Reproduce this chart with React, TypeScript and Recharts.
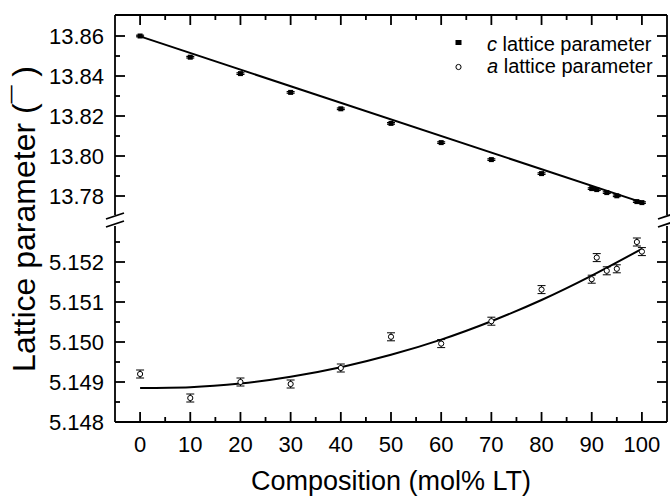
import { ComposedChart, Scatter, Line, XAxis, YAxis, ErrorBar } from 'recharts';

// LT content of each sample (mol%)
const COMPOSITION = [0, 10, 20, 30, 40, 50, 60, 70, 80, 90, 91, 93, 95, 99, 100];
// c lattice parameter per sample
const C_PARAM = [
  13.86, 13.8494, 13.8412, 13.8318, 13.8236, 13.8163, 13.8067, 13.7982, 13.7912, 13.7837, 13.7832,
  13.7817, 13.7801, 13.7772, 13.7767,
];
// a lattice parameter per sample
const A_PARAM = [
  5.1492, 5.1486, 5.149, 5.14895, 5.14935, 5.15013, 5.14996, 5.15052, 5.15131, 5.15157, 5.15211,
  5.15178, 5.15183, 5.1525, 5.15226,
];
const C_ERR = [
  0.0004, 0.0004, 0.0004, 0.0004, 0.0004, 0.0004, 0.0004, 0.0004, 0.0004, 0.0004, 0.0004, 0.0004,
  0.0004, 0.0004, 0.0004,
];
const A_ERR = [
  0.0001, 0.0001, 0.0001, 0.0001, 0.0001, 0.0001, 0.0001, 0.0001, 0.0001, 0.0001, 0.0001, 0.0001,
  0.0001, 0.0001, 0.0001,
];

// fitted curves
const C_FIT_X = [0, 100];
const C_FIT = [13.8598, 13.7768];
const A_FIT_X = [0, 10, 20, 30, 40, 50, 60, 70, 80, 90, 100];
const A_FIT = [
  5.14885, 5.14887, 5.14896, 5.14913, 5.14937, 5.14968, 5.15006, 5.15052, 5.15105, 5.15166, 5.15233,
];

// axes
const X_DOMAIN = [-5, 105];
const X_TICKS = [0, 5, 10, 15, 20, 25, 30, 35, 40, 45, 50, 55, 60, 65, 70, 75, 80, 85, 90, 95, 100];
const X_LABELS = [0, 10, 20, 30, 40, 50, 60, 70, 80, 90, 100];
const C_DOMAIN = [13.7705, 13.8705];
const C_TICKS = [13.78, 13.79, 13.8, 13.81, 13.82, 13.83, 13.84, 13.85, 13.86];
const C_LABELS = [13.78, 13.8, 13.82, 13.84, 13.86];
const A_DOMAIN = [5.148, 5.1529];
const A_TICKS = [5.148, 5.1485, 5.149, 5.1495, 5.15, 5.1505, 5.151, 5.1515, 5.152, 5.1525];
const A_LABELS = [5.148, 5.149, 5.15, 5.151, 5.152];

const FONT = '"Liberation Sans", Arial, Helvetica, sans-serif';
const AXIS_STROKE = { stroke: '#000', strokeWidth: 1.8 };

const cPoints = COMPOSITION.map((x, i) => ({ x, y: C_PARAM[i], err: C_ERR[i] }));
const aPoints = COMPOSITION.map((x, i) => ({ x, y: A_PARAM[i], err: A_ERR[i] }));
const cFit = C_FIT_X.map((x, i) => ({ x, y: C_FIT[i] }));
const aFit = A_FIT_X.map((x, i) => ({ x, y: A_FIT[i] }));

const isIn = (list: number[], v: number) => list.some((l) => Math.abs(l - v) < 1e-7);

// inward ticks; labels sit outside the frame
type Side = 'left' | 'right' | 'top' | 'bottom';
const makeTick = (side: Side, labels: number[] | null, fmt: (v: number) => string) => (p: any) => {
  const v = p.payload.value;
  const major = isIn(labels ?? X_LABELS, v);
  const len = major ? 10 : 5;
  let x2 = p.x;
  let y2 = p.y;
  if (side === 'left') x2 = p.x + len;
  if (side === 'right') x2 = p.x - len;
  if (side === 'top') y2 = p.y + len;
  if (side === 'bottom') y2 = p.y - len;
  return (
    <g>
      <line x1={p.x} y1={p.y} x2={x2} y2={y2} stroke="#000" strokeWidth={1.8} />
      {major && side === 'left' && labels && (
        <text x={p.x - 11} y={p.y} dy="0.36em" textAnchor="end" fontSize={22} fontFamily={FONT} fill="#000">
          {fmt(v)}
        </text>
      )}
      {major && side === 'bottom' && (
        <text x={p.x} y={p.y + 30} textAnchor="middle" fontSize={22} fontFamily={FONT} fill="#000">
          {fmt(v)}
        </text>
      )}
    </g>
  );
};

const SquareDot = (p: any) => <rect x={p.cx - 2.5} y={p.cy - 2.5} width={5} height={5} fill="#000" />;
const OpenDot = (p: any) => <circle cx={p.cx} cy={p.cy} r={2.6} fill="#fff" stroke="#000" strokeWidth={1} />;

const commonY = {
  type: 'number' as const,
  dataKey: 'y',
  allowDataOverflow: true,
  interval: 0 as const,
  tickSize: 0,
  tickMargin: 0,
  axisLine: AXIS_STROKE,
  tickLine: false,
};

export default function App() {
  return (
    <div style={{ position: 'absolute', left: 0, top: 0, width: 670, height: 499, background: '#fff' }}>
      {/* upper panel: c parameter */}
      <div style={{ position: 'absolute', left: 0, top: 0 }}>
        <ComposedChart width={670} height={215} margin={{ top: 0, right: 0, bottom: 0, left: 55 }}>
          <XAxis
            xAxisId="t"
            orientation="top"
            type="number"
            dataKey="x"
            domain={X_DOMAIN}
            ticks={X_TICKS}
            interval={0}
            height={15}
            tickSize={0}
            tickMargin={0}
            tickLine={false}
            axisLine={AXIS_STROKE}
            allowDataOverflow
            tick={makeTick('top', X_LABELS, String)}
          />
          <YAxis
            {...commonY}
            yAxisId="l"
            domain={C_DOMAIN}
            ticks={C_TICKS}
            width={60}
            tick={makeTick('left', C_LABELS, (v) => v.toFixed(2))}
          />
          <YAxis
            {...commonY}
            yAxisId="r"
            orientation="right"
            domain={C_DOMAIN}
            ticks={C_TICKS}
            width={3}
            tick={makeTick('right', C_LABELS, (v) => v.toFixed(2))}
          />
          <Line
            xAxisId="t"
            yAxisId="l"
            data={cFit}
            dataKey="y"
            type="linear"
            stroke="#000"
            strokeWidth={2}
            dot={false}
            isAnimationActive={false}
          />
          <Scatter xAxisId="t" yAxisId="l" data={cPoints} dataKey="y" shape={SquareDot} isAnimationActive={false}>
            <ErrorBar dataKey="err" direction="y" width={4} stroke="#000" strokeWidth={1.2} isAnimationActive={false} />
          </Scatter>
        </ComposedChart>
      </div>

      {/* lower panel: a parameter */}
      <div style={{ position: 'absolute', left: 0, top: 0 }}>
        <ComposedChart width={670} height={499} margin={{ top: 226, right: 0, bottom: 0, left: 55 }}>
          <XAxis
            xAxisId="b"
            type="number"
            dataKey="x"
            domain={X_DOMAIN}
            ticks={X_TICKS}
            interval={0}
            height={77}
            tickSize={0}
            tickMargin={0}
            tickLine={false}
            axisLine={AXIS_STROKE}
            allowDataOverflow
            tick={makeTick('bottom', X_LABELS, String)}
          />
          <YAxis
            {...commonY}
            yAxisId="l"
            domain={A_DOMAIN}
            ticks={A_TICKS}
            width={60}
            tick={makeTick('left', A_LABELS, (v) => v.toFixed(3))}
          />
          <YAxis
            {...commonY}
            yAxisId="r"
            orientation="right"
            domain={A_DOMAIN}
            ticks={A_TICKS}
            width={3}
            tick={makeTick('right', A_LABELS, (v) => v.toFixed(3))}
          />
          <Line
            xAxisId="b"
            yAxisId="l"
            data={aFit}
            dataKey="y"
            type="monotone"
            stroke="#000"
            strokeWidth={2}
            dot={false}
            isAnimationActive={false}
          />
          <Scatter xAxisId="b" yAxisId="l" data={aPoints} dataKey="y" shape={OpenDot} isAnimationActive={false}>
            <ErrorBar dataKey="err" direction="y" width={4} stroke="#000" strokeWidth={1} isAnimationActive={false} />
          </Scatter>
        </ComposedChart>
      </div>

      {/* axis break marks, titles and legend */}
      <svg width={670} height={499} style={{ position: 'absolute', left: 0, top: 0, pointerEvents: 'none' }}>
        <g stroke="#000" strokeWidth={1.8}>
          <line x1={106} y1={219} x2={124} y2={213} />
          <line x1={106} y1={227} x2={124} y2={221} />
          <line x1={658} y1={219} x2={676} y2={213} />
          <line x1={658} y1={227} x2={676} y2={221} />
        </g>
        <text
          x={35}
          y={219}
          transform="rotate(-90 35 219)"
          textAnchor="middle"
          fontSize={32}
          fontFamily={FONT}
          fill="#000"
        >
          Lattice parameter (¯ )
        </text>
        <text x={391} y={490} textAnchor="middle" fontSize={27} fontFamily={FONT} fill="#000">
          Composition (mol% LT)
        </text>
        <rect x={455.5} y={40} width={6} height={5} fill="#000" />
        <text x={487} y={50.5} fontSize={20} fontFamily={FONT} fill="#000">
          <tspan fontStyle="italic">c</tspan> lattice parameter
        </text>
        <circle cx={458.5} cy={67} r={2.6} fill="#fff" stroke="#000" strokeWidth={1} />
        <text x={487} y={73} fontSize={20} fontFamily={FONT} fill="#000">
          <tspan fontStyle="italic">a</tspan> lattice parameter
        </text>
      </svg>
    </div>
  );
}
